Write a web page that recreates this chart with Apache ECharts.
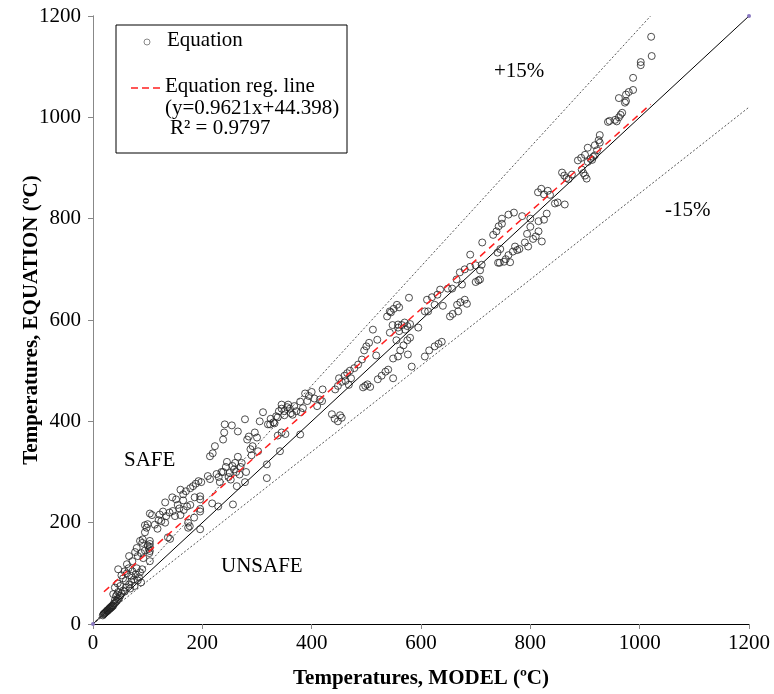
<!DOCTYPE html>
<html>
<head>
<meta charset="utf-8">
<script src="https://cdn.jsdelivr.net/npm/echarts@6/dist/echarts.min.js"></script>
<style>html,body{margin:0;padding:0;background:#fff;}#c{width:774px;height:694px;}</style>
</head>
<body>
<div id="c"></div>
<script>
// Scatter points: [Temperature MODEL, Temperature EQUATION]
const pointsLow = [
[18,17],[19,19],[20,20],[21,21],[22,22],[23,23],[24,24],[25,25],[26,27],[27,26],[28,28],[29,29],[30,31],[31,30],[32,33],[33,32],[34,35],[35,34],[36,37],[37,36],[38,40],[40,41],[42,44],[44,46],[46,49],
[37,59],[42,55],[46,63],[52,60],[55,66],[48,52],[40,47],[44,58],[58,64],[50,56],
[40,72],[45,80],[50,75],[55,90],[60,85],[62,100],[66,78],[70,95],[72,104],[75,88],[78,98],[80,110],[84,92],[86,102],[88,82],[90,108],[65,110],[58,104],[46,108],[52,96],[68,70],[76,75],[82,86],[70,84],[60,72],
[62,118],[66,134],[72,124],[82,134],[77,142],[80,150],[86,164],[90,160],[91,167],[95,145],[95,181],[98,190],[100,197],[95,195],[100,155],[102,148],[103,140],[104,144],[104,152],[104,158],[104,164],[104,124],[104,218],[108,215],[88,140],[92,130]
];
const pointsMid = [
[113,196],[118,188],[122,216],[125,203],[132,200],[132,240],[134,213],[137,171],[140,220],[141,168],[146,223],[150,213],[152,246],[155,235],[158,228],[160,215],[165,244],[165,256],[166,225],[170,262],[172,232],[174,190],[174,200],[178,235],[178,268],[183,272],[186,250],[188,277],[193,282],[196,227],[196,252],[196,187],[198,280],[210,292],[214,286],[196,222],[196,246],[145,250],[160,265],[120,205],[128,222],[185,210],[177,193],
[214,331],[219,337],[223,351],[229,232],[218,238],[230,290],[235,300],[238,364],[240,378],[241,394],[243,310],[245,320],[250,298],[252,285],[254,392],[256,236],[258,305],[260,318],[263,272],[265,380],[265,330],[268,295],[270,310],[278,280],[278,404],[282,364],[285,370],[288,345],[290,333],[292,351],[296,378],[300,368],[302,341],[305,400],[311,418],[238,300],[248,290],[255,312],[232,280],[262,300],[226,296],[272,318],[280,300],
[318,288],[318,315],[320,394],[325,405],[330,398],[335,410],[342,341],[345,425],[350,420],[357,433],[324,394],[338,408],[340,420],[345,433],[350,412],[355,428],[362,416],[368,430],[372,420],[379,439],[380,418],[384,426],[338,372],[345,378],[352,375],[365,413],[379,374],[395,450],[400,458],[405,445],[410,430],[415,443],[419,440],[420,463],[388,455],[392,440],[332,396],[360,425]
];
const pointsHigh = [
[437,414],[442,405],[448,400],[452,412],[455,407],[443,463],[448,470],[455,478],[460,490],[465,495],[470,500],[472,485],[478,505],[485,512],[462,480],[450,485],[468,472],[492,522],[496,540],[500,548],[505,555],[512,581],[518,530],[520,561],[494,467],[498,470],[502,473],[507,468],[521,483],[528,490],[535,498],[540,502],[549,485],[538,607],[545,615],[550,622],[556,630],[549,524],[555,560],[558,591],[543,617],[548,590],
[558,585],[565,590],[570,595],[575,588],[580,592],[595,585],[543,575],[560,578],[571,581],[558,528],[562,540],[568,550],[575,560],[580,565],[583,508],[578,644],[560,625],[576,532],[607,617],[613,617],[611,640],[620,645],[630,650],[635,660],[649,662],[625,630],[640,628],[607,528],[615,540],[625,548],[632,553],[638,557],[653,607],[658,612],[668,617],
[657,662],[665,680],[675,670],[690,729],[671,694],[680,700],[690,705],[700,708],[708,698],[711,709],[666,630],[672,635],[680,640],[684,632],[700,675],[705,678],[708,680],[712,753],[732,768],[738,775],[742,785],[748,790],[741,713],[752,715],[763,714],[740,733],[745,740],[772,745],[776,738],[744,713],[755,720],[760,728],[768,735],[780,740],[790,753],[796,745],
[794,770],[800,784],[805,760],[810,765],[815,775],[821,755],[748,800],[760,808],[770,812],[785,805],[800,800],[815,795],[825,798],[830,810],[814,852],[820,859],[825,848],[832,855],[836,847],[845,830],[850,832],[863,828],[858,891],[862,885],[866,880],[870,878],[876,887],[894,897],[897,890],[900,885],[903,879],
[887,915],[893,920],[900,926],[905,912],[910,918],[915,922],[905,940],[918,945],[927,950],[913,916],[918,925],[922,935],[925,955],[927,965],[942,991],[945,993],[955,995],[958,992],[962,1000],[965,1005],[968,1009],[962,1038],[975,1045],[980,1050],[988,1054],[973,1029],[975,1032],[988,1078],[1002,1103],[1002,1109],[1021,1159],[1022,1121]
];
const xTicks = [0,200,400,600,800,1000,1200];
const regSlope = 0.9621, regIntercept = 44.398;
const regRange = [20, 1020];
const upperFactor = 1/0.85, lowerFactor = 0.85;

const points = pointsLow.concat(pointsMid, pointsHigh);
const axisMax = xTicks[xTicks.length-1];
const font = 'Liberation Serif';
const plain = v => String(v);
const tf = '21px "Liberation Serif"';

const chart = echarts.init(document.getElementById('c'));
chart.setOption({
  animation: false,
  backgroundColor: '#fff',
  grid: {left: 93, right: 25, top: 16, bottom: 69},
  xAxis: [{
    type: 'value', min: 0, max: axisMax, interval: 200,
    name: 'Temperatures, MODEL (ºC)', nameLocation: 'middle', nameGap: 44,
    nameMoveOverlap: false,
    nameTextStyle: {fontFamily: font, fontSize: 21, fontWeight: 'bold', color: '#000'},
    axisLine: {lineStyle: {color: '#888', width: 1}},
    axisTick: {show: true, length: 5, lineStyle: {color: '#888'}},
    axisLabel: {fontFamily: font, fontSize: 21, color: '#000', margin: 9, formatter: plain},
    splitLine: {show: false}
  }, {
    type: 'value', min: 0, max: axisMax, position: 'top',
    axisLine: {show: true, lineStyle: {color: '#000', width: 1}},
    axisTick: {show: false}, axisLabel: {show: false}, splitLine: {show: false}
  }],
  yAxis: [{
    type: 'value', min: 0, max: axisMax, interval: 200,
    name: 'Temperatures, EQUATION (ºC)', nameLocation: 'middle', nameGap: 51,
    nameMoveOverlap: false,
    nameTextStyle: {fontFamily: font, fontSize: 21, fontWeight: 'bold', color: '#000'},
    axisLine: {show: true, lineStyle: {color: '#888', width: 1}},
    axisTick: {show: true, length: 5, lineStyle: {color: '#888'}},
    axisLabel: {fontFamily: font, fontSize: 21, color: '#000', margin: 12, formatter: plain},
    splitLine: {show: false}
  }, {
    type: 'value', min: 0, max: axisMax, position: 'right',
    axisLine: {show: true, lineStyle: {color: '#888', width: 1}},
    axisTick: {show: false}, axisLabel: {show: false}, splitLine: {show: false}
  }],
  series: [
    {
      type: 'line', name: '+15%', data: [[0,0],[axisMax/upperFactor, axisMax]],
      symbol: 'none', lineStyle: {color: '#555', width: 1, type: [2,2]}, z: 1
    },
    {
      type: 'line', name: '-15%', data: [[0,0],[axisMax, axisMax*lowerFactor]],
      symbol: 'none', lineStyle: {color: '#555', width: 1, type: [2,2]}, z: 1
    },
    {
      type: 'line', name: '1:1', data: [[0,0],[axisMax, axisMax]],
      symbol: 'circle', symbolSize: 4, itemStyle: {color: '#8878c0'},
      lineStyle: {color: '#000', width: 1}, z: 2
    },
    {
      type: 'scatter', name: 'Equation', data: points,
      symbol: 'circle', symbolSize: 7,
      itemStyle: {color: 'rgba(0,0,0,0)', borderColor: '#222', borderWidth: 1}, z: 3
    },
    {
      type: 'line', name: 'Equation reg. line',
      data: regRange.map(x => [x, regSlope*x + regIntercept]),
      symbol: 'none', lineStyle: {color: '#ff2020', width: 1.5, type: [7,5]}, z: 4
    }
  ],
  graphic: [
    {type: 'rect', shape: {x: 116, y: 25, width: 231, height: 128},
     style: {fill: '#fff', stroke: '#000', lineWidth: 1}, z: 10},
    {type: 'circle', shape: {cx: 147, cy: 42, r: 3},
     style: {fill: 'none', stroke: '#888', lineWidth: 1}, z: 11},
    {type: 'text', left: 167, top: 30, z: 11,
     style: {text: 'Equation', font: tf, fill: '#000'}},
    {type: 'line', shape: {x1: 131, y1: 88, x2: 162, y2: 88},
     style: {stroke: '#ff2020', lineWidth: 1.5, lineDash: [7,4]}, z: 11},
    {type: 'text', left: 165, top: 76, z: 11,
     style: {text: 'Equation reg. line', font: tf, fill: '#000'}},
    {type: 'text', left: 165, top: 98, z: 11,
     style: {text: '(y=0.9621x+44.398)', font: tf, fill: '#000'}},
    {type: 'text', left: 170, top: 118, z: 11,
     style: {text: 'R² = 0.9797', font: tf, fill: '#000'}},
    {type: 'text', left: 494, top: 61, z: 11,
     style: {text: '+15%', font: tf, fill: '#000'}},
    {type: 'text', left: 665, top: 200, z: 11,
     style: {text: '-15%', font: tf, fill: '#000'}},
    {type: 'text', left: 124, top: 450, z: 11,
     style: {text: 'SAFE', font: tf, fill: '#000'}},
    {type: 'text', left: 221, top: 556, z: 11,
     style: {text: 'UNSAFE', font: tf, fill: '#000'}}
  ]
});
</script>
</body>
</html>
